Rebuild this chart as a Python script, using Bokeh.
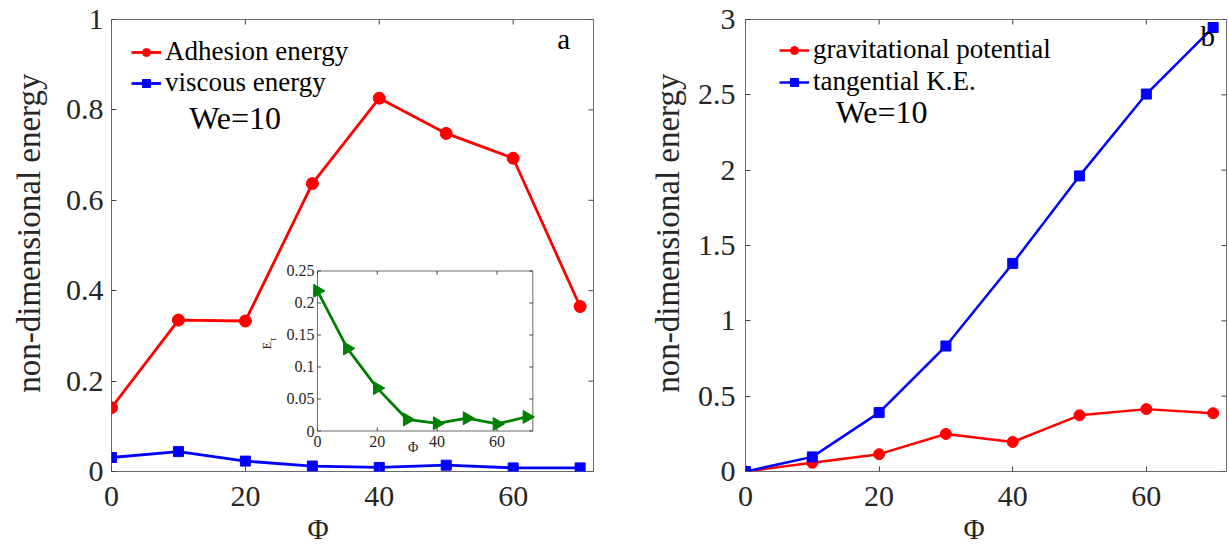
from bokeh.plotting import figure
from bokeh.layouts import row
from bokeh.models import (Range1d, LinearAxis, FixedTicker, Legend, LegendItem,
                          Label, Title, ColumnDataSource)
from bokeh.core.properties import value
from bokeh.embed import file_html
from bokeh.resources import INLINE
import math

# ---- data -------------------------------------------------------------
phi = [0, 10, 20, 30, 40, 50, 60, 70]

adhesion_energy = [0.141, 0.335, 0.333, 0.637, 0.826, 0.748, 0.693, 0.365]
viscous_energy = [0.031, 0.044, 0.023, 0.012, 0.009, 0.014, 0.008, 0.008]
e_tau = [0.219, 0.129, 0.067, 0.018, 0.012, 0.020, 0.011, 0.022]

grav_potential = [0.0, 0.058, 0.115, 0.249, 0.196, 0.373, 0.414, 0.387]
tangential_ke = [0.0, 0.097, 0.391, 0.833, 1.381, 1.962, 2.505, 2.947]

x_ticks = [0, 20, 40, 60]
x_tick_labels = ["0", "20", "40", "60"]
ya_ticks = [0, 0.2, 0.4, 0.6, 0.8, 1.0]
ya_tick_labels = ["0", "0.2", "0.4", "0.6", "0.8", "1"]
yb_ticks = [0, 0.5, 1.0, 1.5, 2.0, 2.5, 3.0]
yb_tick_labels = ["0", "0.5", "1", "1.5", "2", "2.5", "3"]
inset_y_ticks = [0, 0.05, 0.1, 0.15, 0.2, 0.25]
inset_y_tick_labels = ["0", "0.05", "0.1", "0.15", "0.2", "0.25"]

# ---- styling ----------------------------------------------------------
SERIF = "Liberation Serif"
RED, BLUE, GREEN = "#ff0000", "#0000ff", "#008000"
FRAME = "#6b6b6b"
TICK = "#444444"
TXT = "#262626"
FRAME_H = 452
TICK_LEN = 5
Y_TITLE = "\u00a0\u00a0\u00a0non-dimensional energy"


def style_axes(p, frame_w, xt, xl, yt, yl, y_label_standoff, y_tick_standoff,
               phi_offset):
    p.xaxis.visible = False
    p.yaxis.visible = False
    xb = LinearAxis(ticker=FixedTicker(ticks=xt),
                    major_label_overrides={t: l for t, l in zip(xt, xl)})
    yl_ax = LinearAxis(ticker=FixedTicker(ticks=yt),
                       major_label_overrides={t: l for t, l in zip(yt, yl)},
                       axis_label=Y_TITLE)
    for ax in (xb, yl_ax):
        ax.axis_line_color = None
        ax.major_tick_in = TICK_LEN
        ax.major_tick_out = 0
        ax.major_tick_line_color = TICK
        ax.minor_tick_line_color = None
        ax.major_label_text_font = SERIF
        ax.major_label_text_font_size = "30px"
        ax.major_label_text_color = TXT
    xb.major_label_standoff = 15
    yl_ax.major_label_standoff = y_tick_standoff
    yl_ax.axis_label_text_font = SERIF
    yl_ax.axis_label_text_font_size = "33px"
    yl_ax.axis_label_text_font_style = "normal"
    yl_ax.axis_label_text_color = TXT
    yl_ax.axis_label_standoff = y_label_standoff
    p.add_layout(xb, "below")
    p.add_layout(yl_ax, "left")
    # x-axis title under the tick labels
    p.add_layout(Title(text="\u03a6", align="left", offset=phi_offset, standoff=4,
                       text_font=SERIF, text_font_size="29px",
                       text_font_style="normal", text_color=TXT), "below")
    # inward ticks along the top and right edges of the box
    xr, yr = p.x_range, p.y_range
    dy = TICK_LEN * (yr.end - yr.start) / FRAME_H
    dx = TICK_LEN * (xr.end - xr.start) / frame_w
    p.segment(x0=xt, x1=xt, y0=[yr.end] * len(xt), y1=[yr.end - dy] * len(xt),
              line_color=TICK, line_width=1)
    p.segment(x0=[xr.end] * len(yt), x1=[xr.end - dx] * len(yt), y0=yt, y1=yt,
              line_color=TICK, line_width=1)
    p.xgrid.visible = False
    p.ygrid.visible = False
    p.outline_line_color = FRAME
    p.outline_line_width = 1


def text_label(p, x, y, text, size):
    p.add_layout(Label(x=x, y=y, text=text, text_font=SERIF, text_font_size=size,
                       text_color="#000000"))


def make_legend(p, items, loc, standoff, spacing):
    leg = Legend(items=items, location=loc, padding=0, margin=0, spacing=spacing,
                 glyph_width=30, glyph_height=20, label_standoff=standoff,
                 border_line_color=None, background_fill_alpha=0,
                 label_text_font=SERIF, label_text_font_size="27px",
                 label_text_color="#000000")
    p.add_layout(leg)


# ---- panel a ----------------------------------------------------------
FW_A = 482
pa = figure(frame_width=FW_A, frame_height=FRAME_H,
            min_border_left=111, min_border_right=21,
            min_border_top=19, min_border_bottom=0,
            x_range=Range1d(0, 72), y_range=Range1d(0, 1),
            output_backend="svg", toolbar_location=None)
style_axes(pa, FW_A, x_ticks, x_tick_labels, ya_ticks, ya_tick_labels, 16, 8, 196)

src_a = ColumnDataSource(dict(phi=phi, adh=adhesion_energy, vis=viscous_energy))
ra_l = pa.line("phi", "adh", source=src_a, line_color=RED, line_width=2.8)
ra_m = pa.scatter("phi", "adh", source=src_a, marker="circle", size=12,
                  fill_color=RED, line_color=RED)
rv_l = pa.line("phi", "vis", source=src_a, line_color=BLUE, line_width=2.8)
rv_m = pa.scatter("phi", "vis", source=src_a, marker="square", size=10,
                  fill_color=BLUE, line_color=BLUE)

make_legend(pa, [LegendItem(label="Adhesion energy", renderers=[ra_l, ra_m]),
                 LegendItem(label="viscous energy", renderers=[rv_l, rv_m])],
            (20, 373), 4, -1)

text_label(pa, 11.6, 0.743, "We=10", "32px")
text_label(pa, 66.6, 0.922, "a", "29px")

# inset: E_tau against phi, placed inside panel a through extra ranges
in_xlim, in_ylim = (0, 72), (0, 0.25)
in_left, in_right, in_bottom, in_top = 0.4272, 0.8742, 0.0896, 0.4436
sx = (in_xlim[1] - in_xlim[0]) / (in_right - in_left)
sy = (in_ylim[1] - in_ylim[0]) / (in_top - in_bottom)
pa.extra_x_ranges = {"ix": Range1d(in_xlim[0] - in_left * sx,
                                   in_xlim[0] + (1 - in_left) * sx)}
pa.extra_y_ranges = {"iy": Range1d(in_ylim[0] - in_bottom * sy,
                                   in_ylim[0] + (1 - in_bottom) * sy)}
px_x = (in_right - in_left) * FW_A / (in_xlim[1] - in_xlim[0])   # px per x unit
px_y = (in_top - in_bottom) * FRAME_H / (in_ylim[1] - in_ylim[0])  # px per y unit
IN = dict(x_range_name="ix", y_range_name="iy")

pa.quad(left=[in_xlim[0]], right=[in_xlim[1]], bottom=[in_ylim[0]], top=[in_ylim[1]],
        fill_color="white", line_color=FRAME, line_width=1, **IN)
tl = 3.5
pa.segment(x0=x_ticks, x1=x_ticks, y0=[in_ylim[0]] * 4, y1=[in_ylim[0] + tl / px_y] * 4,
           line_color=TICK, line_width=1, **IN)
pa.segment(x0=x_ticks, x1=x_ticks, y0=[in_ylim[1]] * 4, y1=[in_ylim[1] - tl / px_y] * 4,
           line_color=TICK, line_width=1, **IN)
n_y = len(inset_y_ticks)
pa.segment(x0=[in_xlim[0]] * n_y, x1=[in_xlim[0] + tl / px_x] * n_y,
           y0=inset_y_ticks, y1=inset_y_ticks, line_color=TICK, line_width=1, **IN)
pa.segment(x0=[in_xlim[1]] * n_y, x1=[in_xlim[1] - tl / px_x] * n_y,
           y0=inset_y_ticks, y1=inset_y_ticks, line_color=TICK, line_width=1, **IN)
pa.text(x=x_ticks, y=[in_ylim[0] - 5 / px_y] * 4, text=x_tick_labels,
        text_font=value(SERIF), text_font_size="16px", text_color=TXT,
        text_align="center", text_baseline="top", **IN)
pa.text(x=[in_xlim[0] - 3 / px_x] * n_y, y=inset_y_ticks, text=inset_y_tick_labels,
        text_font=value(SERIF), text_font_size="16px", text_color=TXT,
        text_align="right", text_baseline="middle", **IN)
pa.text(x=[32], y=[in_ylim[0] - 16 / px_y], text=["\u03a6"],
        text_font=value(SERIF), text_font_size="14px", text_color=TXT,
        text_align="center", text_baseline="middle", **IN)
pa.text(x=[in_xlim[0] - 50 / px_x], y=[in_ylim[0] + 85.5 / px_y], text=["E"],
        text_font=value(SERIF), text_font_size="12px", text_color=TXT,
        text_align="center", text_baseline="middle", angle=math.pi / 2, **IN)
pa.text(x=[in_xlim[0] - 45 / px_x], y=[in_ylim[0] + 91.5 / px_y], text=["\u03c4"],
        text_font=value(SERIF), text_font_size="10px", text_color=TXT,
        text_align="center", text_baseline="middle", angle=math.pi / 2, **IN)

src_i = ColumnDataSource(dict(phi=phi, e=e_tau))
pa.line("phi", "e", source=src_i, line_color=GREEN, line_width=2.8, **IN)
pa.scatter("phi", "e", source=src_i, marker="triangle", size=13, angle=-math.pi / 2,
           fill_color=GREEN, line_color=GREEN, **IN)

# ---- panel b ----------------------------------------------------------
FW_B = 481
pb = figure(frame_width=FW_B, frame_height=FRAME_H,
            min_border_left=131, min_border_right=3,
            min_border_top=19, min_border_bottom=0,
            x_range=Range1d(0, 72), y_range=Range1d(0, 3),
            output_backend="svg", toolbar_location=None)
style_axes(pb, FW_B, x_ticks, x_tick_labels, yb_ticks, yb_tick_labels, 9, 10, 218)

src_b = ColumnDataSource(dict(phi=phi, grav=grav_potential, ke=tangential_ke))
rg_l = pb.line("phi", "grav", source=src_b, line_color=RED, line_width=2.5)
rg_m = pb.scatter("phi", "grav", source=src_b, marker="circle", size=11,
                  fill_color=RED, line_color=RED)
rk_l = pb.line("phi", "ke", source=src_b, line_color=BLUE, line_width=2.5)
rk_m = pb.scatter("phi", "ke", source=src_b, marker="square", size=10,
                  fill_color=BLUE, line_color=BLUE)

make_legend(pb, [LegendItem(label="gravitational potential", renderers=[rg_l, rg_m]),
                 LegendItem(label="tangential K.E.", renderers=[rk_l, rk_m])],
            (34, 374), 4, 1)

text_label(pb, 13.5, 2.266, "We=10", "32px")
text_label(pb, 68.1, 2.786, "b", "29px")

layout = row(pa, pb)
open("out.html", "w").write(file_html(layout, INLINE))
